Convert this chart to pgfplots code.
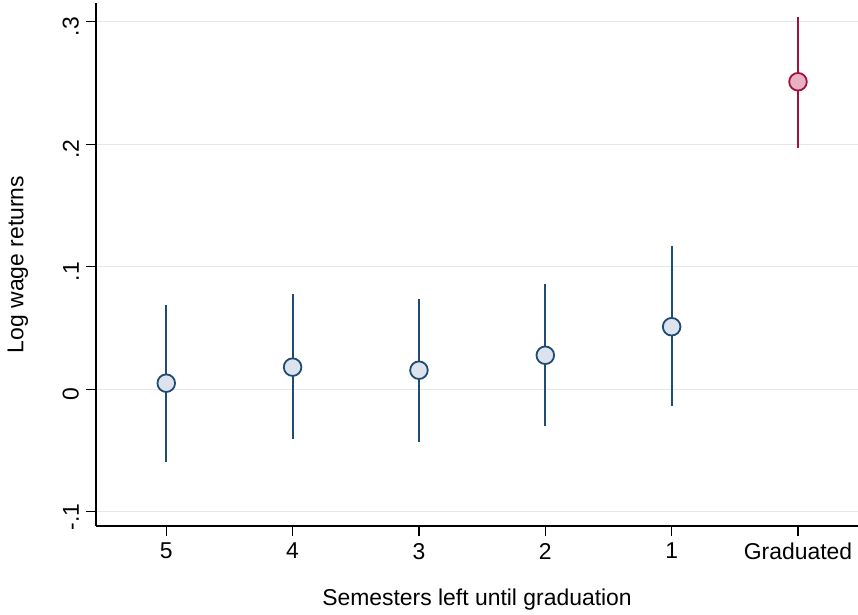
\documentclass[border=0pt]{standalone}
\usepackage{pgfplots}
\usepackage{pgfplotstable}
\pgfplotsset{compat=1.18}
\usepackage{fontspec}
\setmainfont{Liberation Sans}
\definecolor{navyS}{HTML}{1F4C75}
\definecolor{navyF}{HTML}{DCE3EC}
\definecolor{redS}{HTML}{A50F3C}
\definecolor{redF}{HTML}{E8B2C2}
\definecolor{gridG}{HTML}{E6E6E6}
\pgfplotstableread{
x y lo hi
0 0.0049 -0.0595 0.069
1 0.018 -0.041 0.078
2 0.0155 -0.043 0.074
3 0.0277 -0.030 0.0856
4 0.051 -0.014 0.117
}\semtab
\pgfplotstableread{
x y lo hi
5 0.251 0.197 0.304
}\gradtab
\begin{document}
\begin{tikzpicture}
\begin{axis}[
  scale only axis,
  width=381bp, height=261.5bp,
  xmin=-0.556, xmax=5.475,
  ymin=-0.1117, ymax=0.3153,
  axis x line*=bottom, axis y line*=left,
  axis line style={black, line width=0.6bp},
  xtick={0,1,2,3,4,5},
  xticklabels={5,4,3,2,1,Graduated},
  ytick={-0.1,0,0.1,0.2,0.3},
  yticklabels={-.1,0,.1,.2,.3},
  tick align=outside,
  major tick length=5bp,
  tick style={black, line width=0.6bp},
  ymajorgrids,
  grid style={gridG, line width=0.5bp},
  y tick label style={rotate=90, anchor=south, xshift=-2.5bp},
  yticklabel shift=0bp,
  tick label style={font=\fontsize{11.5}{13}\selectfont},
  label style={font=\fontsize{11.5}{13}\selectfont},
  xlabel={Semesters left until graduation},
  ylabel={Log wage returns},
  xlabel style={at={(axis description cs:0.5,0)}, anchor=base, yshift=-39.5bp},
  ylabel style={at={(axis description cs:-0.1024,0.5)}, anchor=center, rotate=0},
  clip=false,
]
\addplot[draw=navyS, only marks, mark=none,
  error bars/.cd, y dir=both, y explicit, error bar style={navyS, line width=1.1bp}, error mark=none]
  table[x=x, y=y, y error plus expr=\thisrow{hi}-\thisrow{y}, y error minus expr=\thisrow{y}-\thisrow{lo}] {\semtab};
\addplot[only marks, mark=*, mark size=4.4bp, mark options={draw=navyS, fill=navyF, line width=0.9bp}]
  table[x=x, y=y] {\semtab};
\addplot[draw=redS, only marks, mark=none,
  error bars/.cd, y dir=both, y explicit, error bar style={redS, line width=1.1bp}, error mark=none]
  table[x=x, y=y, y error plus expr=\thisrow{hi}-\thisrow{y}, y error minus expr=\thisrow{y}-\thisrow{lo}] {\gradtab};
\addplot[only marks, mark=*, mark size=4.4bp, mark options={draw=redS, fill=redF, line width=0.9bp}]
  table[x=x, y=y] {\gradtab};
\end{axis}
\pgfresetboundingbox
\path (current axis.south west) ++(-48bp,-44.5bp) coordinate (bbA);
\path (current axis.north east) ++(0bp,1.5bp) coordinate (bbB);
\path[use as bounding box] (bbA) rectangle (bbB);
\end{tikzpicture}
\end{document}
